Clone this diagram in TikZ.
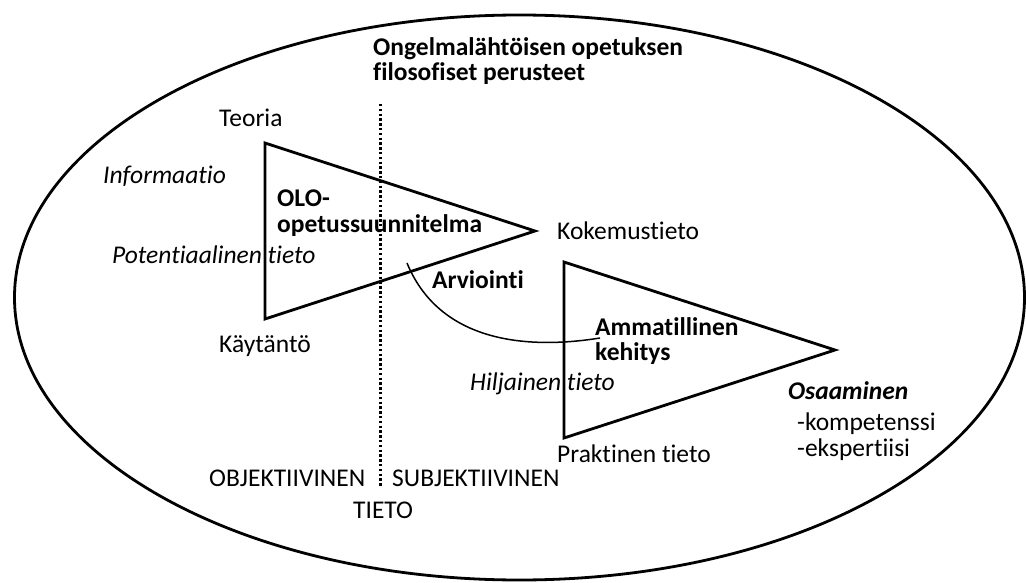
\documentclass[tikz,border=0pt]{standalone}
\usepackage{fontspec}
\setmainfont[Ligatures=NoCommon]{Carlito}
\begin{document}
\begin{tikzpicture}[x=1pt,y=-1pt,
  lbl/.style={anchor=base west, inner sep=0pt, font=\fontsize{25.5}{30}\selectfont},
  bld/.style={lbl, font=\fontsize{25.5}{30}\selectfont\bfseries},
  itl/.style={lbl, font=\fontsize{25.5}{30}\selectfont\itshape},
  tri/.style={draw, line width=2.8pt, line join=miter},
  frame/.style={draw, line width=2.8pt},
  divider/.style={line width=3pt, dash pattern=on 2.4pt off 2.4pt},
  link/.style={draw, line width=1.5pt},
]
\useasboundingbox (0,0) rectangle (1026,583);

% outer ellipse
\draw[frame] (519.5,297.5) ellipse [x radius=505, y radius=282.5];

% title
\node[bld] (title1) at (373,56) {Ongelmalähtöisen opetuksen};
\node[bld] (title2) at (373,81) {filosofiset perusteet};

% objective / subjective divider
\coordinate (dtop) at (380,104);
\coordinate (dbot) at (380,487);
\draw[divider] (dtop) -- (dbot);

% labels
\node[lbl] (teoria) at (219,127) {Teoria};
\node[itl] (info) at (103,183) {Informaatio};
\node[itl] (pot) at (112,263) {Potentiaalinen tieto};
\node[lbl] (kaytanto) at (219,352) {Käytäntö};
\node[bld] (olo1) at (277,207) {OLO-};
\node[bld] (olo2) at (277,233) {opetussuunnitelma};
\node[lbl] (koke) at (557,240) {Kokemustieto};
\node[bld] (arv) at (432,288) {Arviointi};
\node[bld] (amm1) at (595,335) {Ammatillinen};
\node[bld] (amm2) at (595,360) {kehitys};
\node[itl] (hilj) at (470,390) {Hiljainen tieto};
\node[lbl] (prak) at (557,462) {Praktinen tieto};
\node[lbl, font=\fontsize{25.5}{30}\selectfont\bfseries\itshape] (osaa) at (788,399) {Osaaminen};
\node[lbl] (komp) at (797,430) {-kompetenssi};
\node[lbl] (eksp) at (797,456) {-ekspertiisi};
\node[lbl] (obj) at (209,486) {OBJEKTIIVINEN};
\node[lbl] (subj) at (392,486) {SUBJEKTIIVINEN};
\node[lbl] (tieto) at (353,518) {TIETO};

% triangles
\draw[tri] (265,143) -- (535,231) -- (265,319) -- cycle;
\draw[tri] (564,262) -- (835,350) -- (564,438) -- cycle;

% evaluation arc
\coordinate (arcA) at (407,263);
\coordinate (arcB) at (600,338);
\draw[link] (arcA) .. controls (442,348) and (538,348) .. (arcB);
\end{tikzpicture}
\end{document}
